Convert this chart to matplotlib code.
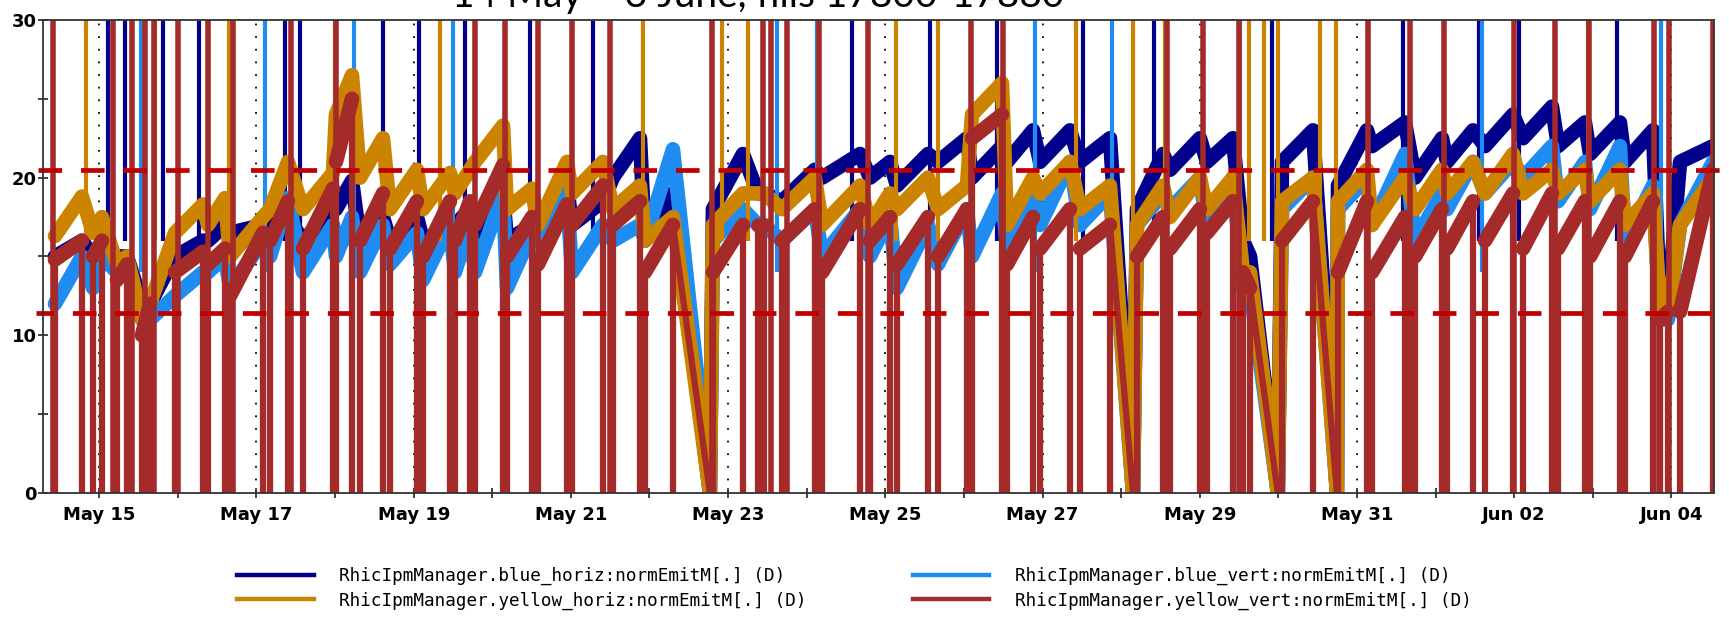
import numpy as np
import matplotlib
matplotlib.use("Agg")
import matplotlib.pyplot as plt
import matplotlib.dates as mdates
from matplotlib.lines import Line2D

# stores (fills), in days after 14 May 00:00
fill_start = [0.436, 0.920, 1.225, 1.543, 1.963, 2.383, 2.663, 3.172, 3.592, 4.011,
              4.317, 4.698, 5.118, 5.525, 5.780, 6.187, 6.581, 7.014, 7.535, 7.942,
              8.807, 9.380, 9.685, 10.196, 10.805, 11.148, 11.670, 12.103, 12.548, 12.968,
              13.477, 14.202, 14.622, 15.092, 15.551, 16.047, 16.759, 17.192, 17.739, 18.146,
              18.629, 19.113, 19.558, 19.965, 20.410, 20.855, 21.111]
fill_end = [0.780, 1.034, 1.352, 1.645, 2.319, 2.599, 3.083, 3.401, 3.973, 4.215,
            4.609, 5.042, 5.461, 5.716, 6.137, 6.505, 6.950, 7.408, 7.879, 8.298,
            9.189, 9.456, 10.104, 10.679, 11.060, 11.543, 12.039, 12.485, 12.879, 13.349,
            13.858, 14.533, 15.003, 15.422, 15.640, 16.441, 17.128, 17.611, 18.082, 18.477,
            18.986, 19.482, 19.901, 20.346, 20.766, 20.957, 21.531]
# when the signal is lost the logger interpolates down to zero
fade_to_zero = {19: 8.769, 30: 14.151, 34: 15.993, 35: 16.746}

blue_horiz_start = [15, 15, 15, 12, 15, 16, 16.5, 17, 16, 18, 16, 16, 16, 17, 16, 16, 17.5, 17, 20, 16,
                    18, 19, 18.5, 20, 20, 19.5, 21, 20, 21, 21, 21, 18, 20.5, 21, 16, 21, 19.5, 22, 20, 21,
                    22, 22.5, 22, 21.5, 21, 12, 21]
blue_horiz_end = [16, 15.5, 15, 12, 16, 17, 17, 17.5, 18, 19.8, 17.5, 17.5, 17, 18, 19, 17, 19.5, 18.5, 22.5, 19,
                  21.5, 19, 20.5, 21.5, 21, 21.5, 22.5, 22, 23, 23, 22.5, 21.5, 22.5, 22.5, 15, 23, 23, 23.5, 22.5, 23,
                  24, 24.5, 23.5, 23.5, 23, 12, 22]
blue_vert_start = [12, 13, 14, 11, 12.5, 14, 13, 15, 14, 15, 14, 14.5, 13.5, 14, 14, 13, 16, 14, 16, 16,
                   16, 17, 16, 15, 15, 13, 14.5, 15, 15.5, 17, 17, 17, 18, 17, 13, 18, 18, 17, 16, 18,
                   19, 20, 18.5, 18, 16, 11, 17]
blue_vert_end = [15, 15, 14.5, 11, 14, 15, 16, 18.7, 17, 17.5, 17, 16.5, 17, 17, 19, 16.5, 19, 17, 17, 21.8,
                 18, 17, 18, 18, 17.5, 17, 18, 19, 19, 21, 19, 19, 20, 20, 13, 20, 20, 21.5, 19, 21,
                 21, 22, 21, 22, 19.5, 11, 21]
yellow_horiz_start = [16.3, 16.5, 14.5, 11, 16.5, 17, 15, 18, 18, 24, 20, 18, 18, 19, 21, 18, 17, 19, 18, 16,
                      17, 19, 18, 17, 17, 18, 18, 24, 17, 19, 18, 17, 17.5, 18, 14, 18.5, 18.5, 17, 18, 19,
                      19, 19, 19, 18.5, 17, 11.5, 17]
yellow_horiz_end = [18.8, 17.5, 15, 12, 18.3, 18.7, 17.5, 21, 20.3, 26.5, 22.5, 20.5, 20.3, 20.5, 23.3, 19.3, 21, 21, 19.5, 17.5,
                    19, 19, 20, 19.5, 19, 20, 19.5, 26, 20, 21, 19.5, 19.5, 20, 20, 14, 20, 20.5, 20, 20.5, 21,
                    21.5, 20.5, 20.5, 20.5, 19, 11.5, 20]
yellow_vert_start = [14.8, 15, 13.5, 10, 14, 14.5, 12.5, 16, 15.5, 21, 16, 15.5, 15, 16, 17, 15, 14.5, 17, 17, 14,
                     14, 17, 16, 14, 16, 14.5, 15, 22.5, 14.5, 15.5, 15.5, 15, 15.5, 16.5, 14, 16, 14, 14, 15, 15.5,
                     16, 15.5, 15.5, 15, 15, 11, 11.5]
yellow_vert_end = [16, 16, 14.5, 12, 15.3, 15.5, 16.5, 18.5, 19.3, 25, 19, 18.5, 18.5, 18.5, 20.8, 17.5, 18.3, 19.5, 18.5, 17,
                   17, 17, 18, 18, 17.5, 17.5, 18, 24, 17.5, 18, 17, 17.5, 18, 18.5, 13, 18.5, 18.5, 17.5, 18, 18.5,
                   19, 19, 18.5, 18.5, 18.5, 11.5, 20.5]

# off-scale readings between stores (days after 14 May), per signal
blue_horiz_spikes = [1.111, 1.327, 1.810, 2.268, 3.363, 3.553, 4.610, 5.068, 5.653, 6.480, 7.282,
                     10.577, 11.569, 12.422, 13.516, 14.419, 15.920, 17.587, 18.554, 19.063, 20.310]
blue_vert_spikes = [1.531, 3.108, 4.241, 5.500, 9.622, 10.131, 12.905, 13.885, 15.513, 17.676,
                    18.592, 20.869]
yellow_horiz_spikes = [0.831, 1.709, 2.650, 3.999, 5.335, 7.918, 8.923, 9.253, 11.137, 11.671, 13.426,
                       14.152, 14.559, 15.627, 15.818, 15.996, 16.531, 16.734, 19.941]
yellow_vert_spikes = [0.411, 1.174, 1.416, 1.581, 1.696, 2.001, 2.383, 2.701, 3.439, 4.011, 5.780,
                      6.162, 6.582, 7.014, 7.498, 8.795, 9.444, 9.546, 9.749, 10.157, 10.780, 12.091,
                      12.498, 14.584, 15.043, 15.501, 17.142, 17.676, 18.109, 18.999, 19.520, 19.954,
                      20.780, 20.971, 21.531]
spike_floor = [16, 14, 16, 0]

series_names = ["RhicIpmManager.blue_horiz:normEmitM[.] (D)",
                "RhicIpmManager.blue_vert:normEmitM[.] (D)",
                "RhicIpmManager.yellow_horiz:normEmitM[.] (D)",
                "RhicIpmManager.yellow_vert:normEmitM[.] (D)"]
series_colors = ["#00008c", "#1e8cf0", "#cc8400", "#a52a2a"]
limit_levels = [20.5, 11.4]
tick_days = ["2015-05-15", "2015-05-17", "2015-05-19", "2015-05-21", "2015-05-23", "2015-05-25",
             "2015-05-27", "2015-05-29", "2015-05-31", "2015-06-02", "2015-06-04"]

t0 = np.datetime64("2015-05-14T00:00")


def to_dates(days):
    mins = np.round(np.asarray(days, dtype=float) * 1440).astype("int64")
    return (t0 + mins.astype("timedelta64[m]")).astype("datetime64[ms]")


def joined_trace(vs, ve):
    # one store after another, the short gaps drawn as straight drops
    t, y = [], []
    for i in range(len(fill_start)):
        t += [fill_start[i], fill_end[i]]
        y += [vs[i], ve[i]]
        if i in fade_to_zero:
            t.append(fade_to_zero[i])
            y.append(0)
    return to_dates(t), np.array(y, dtype=float)


starts = [blue_horiz_start, blue_vert_start, yellow_horiz_start, yellow_vert_start]
ends = [blue_horiz_end, blue_vert_end, yellow_horiz_end, yellow_vert_end]
spikes = [blue_horiz_spikes, blue_vert_spikes, yellow_horiz_spikes, yellow_vert_spikes]

fig = plt.figure(figsize=(17.29, 6.28), dpi=100)
ax = fig.add_axes([0.02487, 0.2150, 0.9665, 0.7532])

# dotted day grid under the data
for d in tick_days:
    ax.axvline(np.datetime64(d), color="black", lw=1.3, ls=(0, (1, 6)), zorder=0)

band = 10.5
for k in range(4):
    col = series_colors[k]
    z = 2 + k
    ax.vlines(to_dates(spikes[k]), spike_floor[k], 30.5, color=col, lw=3.0 if k < 3 else 4.0, zorder=z)
    if k < 3:
        tx, ty = joined_trace(starts[k], ends[k])
        ax.plot(tx, ty, color=col, lw=band, zorder=z, solid_joinstyle="round", solid_capstyle="round")
    else:
        # yellow vertical drops to zero at every injection
        ax.vlines(to_dates(fill_start), 0, starts[k], color=col, lw=4.5, zorder=z)
        ax.vlines(to_dates(fill_end), 0, ends[k], color=col, lw=4.5, zorder=z)
        for i in range(len(fill_start)):
            ax.plot(to_dates([fill_start[i], fill_end[i]]), [starts[k][i], ends[k][i]], color=col, lw=band,
                    zorder=z, solid_capstyle="round")
            if i in fade_to_zero:
                ax.plot(to_dates([fill_end[i], fade_to_zero[i]]), [ends[k][i], 0], color=col, lw=4.5, zorder=z)

ax.set_ylim(0, 30)
ax.set_xlim(to_dates([0.284])[0], to_dates([21.544])[0])
ax.set_yticks([0, 10, 20, 30])
ax.set_yticks([5, 15, 25], minor=True)
ax.xaxis.set_major_locator(matplotlib.ticker.FixedLocator(mdates.date2num(np.array(tick_days, dtype="datetime64[D]"))))
ax.xaxis.set_minor_locator(mdates.DayLocator())
ax.xaxis.set_major_formatter(mdates.DateFormatter("%b %d"))
ax.tick_params(which="both", direction="inout", length=7, width=1.2, color="#222222")
ax.tick_params(axis="x", which="major", pad=6, labelsize=13)
ax.tick_params(axis="y", which="major", pad=1, labelsize=13)
for lab in ax.get_xticklabels() + ax.get_yticklabels():
    lab.set_fontweight("bold")
for sp in ax.spines.values():
    sp.set_linewidth(1.3)
    sp.set_color("#333333")
    sp.set_zorder(20)

# the two reference levels drawn across the whole panel
blend = matplotlib.transforms.blended_transform_factory(fig.transFigure, ax.transData)
ax.plot([38 / 1729, 1.0], [limit_levels[0]] * 2, transform=blend, color="#c00000", lw=3.4,
        ls=(0, (5.0, 4.0)), clip_on=False, zorder=10)
ax.plot([36 / 1729, 1.0], [limit_levels[1]] * 2, transform=blend, color="#c00000", lw=3.4,
        ls=(1.3, (5.0, 4.0)), clip_on=False, zorder=10)

handles = [Line2D([], [], color=series_colors[k], lw=3.2) for k in [0, 2, 1, 3]]
labels = [series_names[k] for k in [0, 2, 1, 3]]
fig.legend(handles, labels, loc="upper left", bbox_to_anchor=(237 / 1729, 1 - 567 / 628), ncol=2,
           frameon=False, borderpad=0, borderaxespad=0, handlelength=4.35, handletextpad=1.45,
           columnspacing=6.0, labelspacing=0.35, prop={"family": "DejaVu Sans Mono", "size": 12.7})

fig.text(758 / 1729, 1 - 7 / 628, "14 May \u2013 3 June, fills 17800-17880", ha="center", va="baseline",
         fontsize=28, family="Lato")

fig.savefig("out.png", dpi=100)
